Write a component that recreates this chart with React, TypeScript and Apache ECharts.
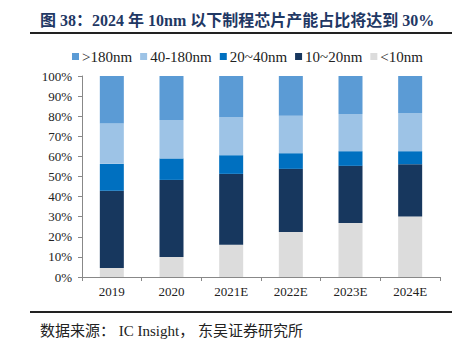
import React, { useEffect, useRef } from "react";
import * as echarts from "echarts";

const categories = ["2019", "2020", "2021E", "2022E", "2023E", "2024E"];
const below10 = [4.5, 10.0, 16.1, 22.4, 26.9, 30.1];
const nm10to20 = [38.4, 38.3, 35.2, 31.4, 28.4, 26.0];
const nm20to40 = [13.4, 10.7, 9.3, 7.8, 7.3, 6.5];
const nm40to180 = [20.1, 19.1, 19.0, 18.6, 18.5, 19.0];
const above180 = [23.6, 21.9, 20.4, 19.8, 18.9, 18.4];
const legendOrder = [">180nm", "40-180nm", "20~40nm", "10~20nm", "<10nm"];

const FONT = "'Liberation Serif', 'Times New Roman', 'Noto Sans CJK SC', serif";

export default function App() {
  const ref = useRef<HTMLDivElement>(null);
  useEffect(() => {
    document.body.style.margin = "0";
    if (!ref.current) return;
    const chart = echarts.init(ref.current, null, { renderer: "svg" });
    const mk = (name: string, data: number[], color: string) => ({
      name,
      type: "bar",
      stack: "total",
      barWidth: 24,
      data,
      itemStyle: { color },
    });
    chart.setOption({
      animation: false,
      backgroundColor: "#ffffff",
      textStyle: { fontFamily: FONT },
      legend: {
        data: legendOrder,
        left: 72,
        top: 49,
        width: 385,
        padding: 0,
        icon: "rect",
        itemWidth: 7,
        itemHeight: 7,
        itemGap: 8,
        textStyle: { fontFamily: FONT, fontSize: 15, color: "#222", padding: [0, 0, 0, -2] },
      },
      grid: { left: 82, right: 17, top: 76, bottom: 63 },
      xAxis: {
        type: "category",
        data: categories,
        axisLine: { lineStyle: { color: "#888" } },
        axisTick: { show: true, alignWithLabel: false, length: 4, lineStyle: { color: "#888" } },
        axisLabel: { fontFamily: FONT, fontSize: 13, color: "#222", margin: 8 },
      },
      yAxis: {
        type: "value",
        min: 0,
        max: 100,
        interval: 10,
        splitLine: { show: false },
        axisLine: { show: true, lineStyle: { color: "#888" } },
        axisTick: { show: true, length: 4, lineStyle: { color: "#888" } },
        axisLabel: { fontFamily: FONT, fontSize: 13, color: "#222", formatter: "{value}%", margin: 10 },
      },
      series: [
        mk("<10nm", below10, "#DCDCDC"),
        mk("10~20nm", nm10to20, "#17375E"),
        mk("20~40nm", nm20to40, "#0070C0"),
        mk("40-180nm", nm40to180, "#9DC3E6"),
        mk(">180nm", above180, "#5B9BD5"),
      ],
      graphic: [
        {
          type: "text",
          left: 40,
          top: 12,
          style: {
            text: "图 38：2024 年 10nm 以下制程芯片产能占比将达到 30%",
            font: `bold 16px ${FONT}`,
            fill: "#1F3864",
          },
        },
        {
          type: "line",
          shape: { x1: 30, y1: 33, x2: 452, y2: 33 },
          style: { stroke: "#222", lineWidth: 2 },
        },
        {
          type: "line",
          shape: { x1: 30, y1: 312, x2: 452, y2: 312 },
          style: { stroke: "#222", lineWidth: 2 },
        },
        {
          type: "text",
          left: 40,
          top: 323,
          style: {
            text: "数据来源： IC Insight， 东吴证券研究所",
            font: `15px ${FONT}`,
            fill: "#222",
          },
        },
      ],
    });
    return () => chart.dispose();
  }, []);
  return <div ref={ref} style={{ width: 457, height: 340 }} />;
}
